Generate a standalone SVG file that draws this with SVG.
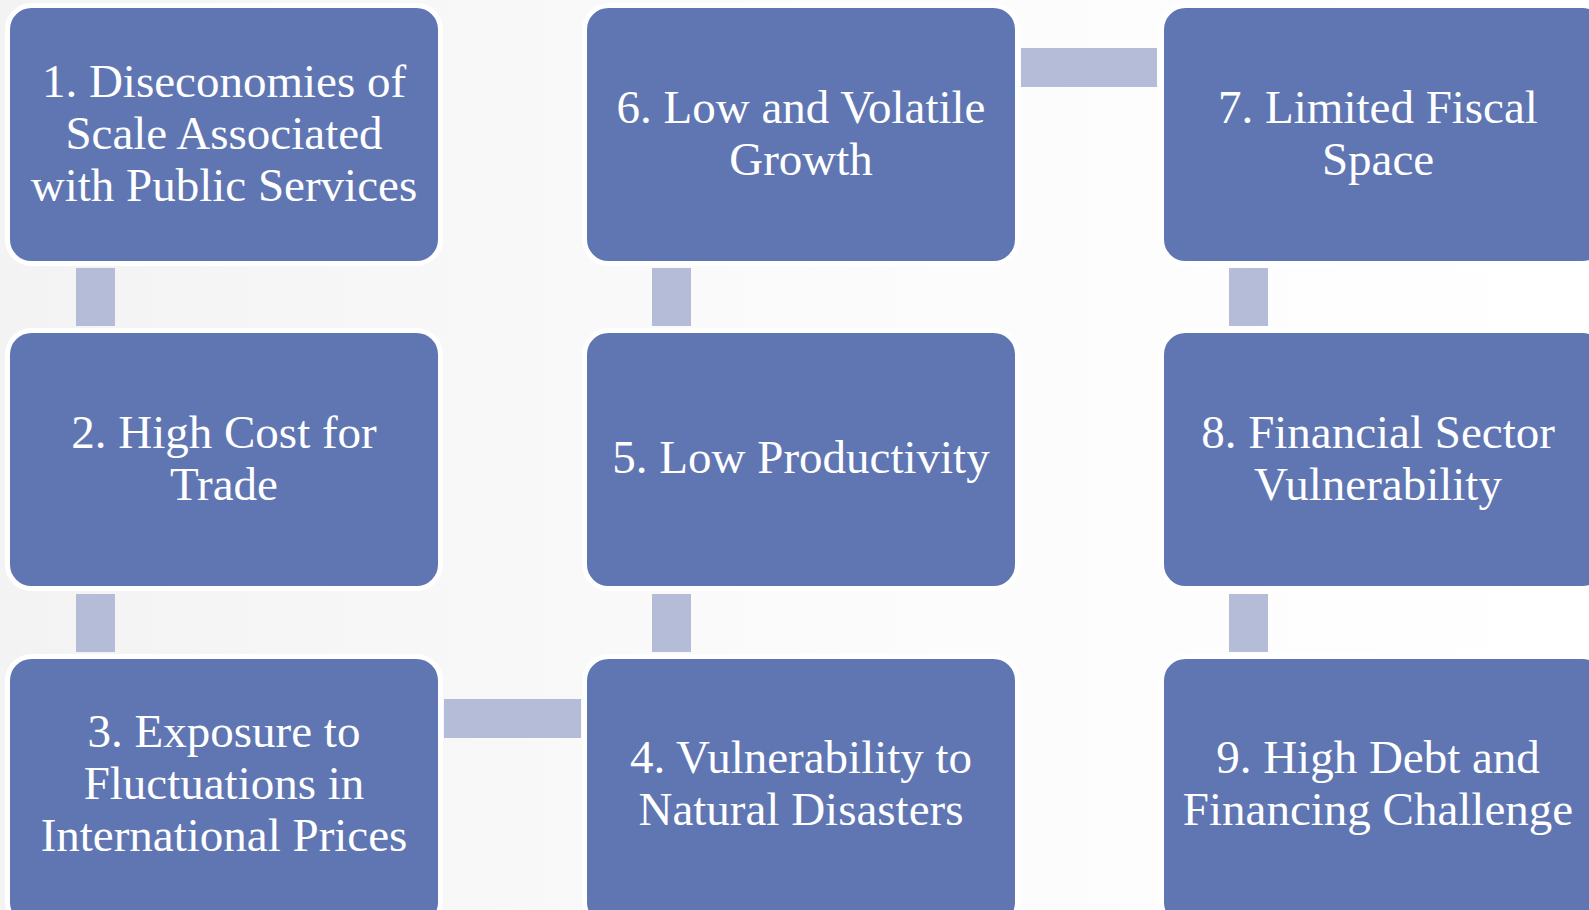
<svg xmlns="http://www.w3.org/2000/svg" width="1589" height="910" viewBox="0 0 1589 910">
<defs>
<linearGradient id="bg" x1="0" y1="0" x2="1" y2="0">
<stop offset="0" stop-color="#f3f3f3"/>
<stop offset="0.5" stop-color="#fbfbfb"/>
<stop offset="1" stop-color="#ffffff"/>
</linearGradient>
</defs>
<style>
.box{fill:#6076b3;stroke:#ffffff;stroke-width:5}
.con{fill:#b4bcd7}
.lbl{font-family:"Liberation Serif","DejaVu Serif",serif;font-size:47px;fill:#ffffff;text-anchor:middle}
</style>
<rect x="0" y="0" width="1589" height="910" fill="url(#bg)"/>
<g id="connectors">
<rect class="con" x="76" y="268" width="39" height="58"/>
<rect class="con" x="76" y="594" width="39" height="58"/>
<rect class="con" x="652" y="268" width="39" height="58"/>
<rect class="con" x="652" y="594" width="39" height="58"/>
<rect class="con" x="1229" y="268" width="39" height="58"/>
<rect class="con" x="1229" y="594" width="39" height="58"/>
<rect class="con" x="444" y="699" width="137" height="39"/>
<rect class="con" x="1021" y="48" width="136" height="39"/>
</g>
<g id="node1">
<rect class="box" x="7.5" y="5.5" width="433" height="258" rx="24"/>
<text class="lbl" x="224" y="97">1. Diseconomies of</text>
<text class="lbl" x="224" y="149">Scale Associated</text>
<text class="lbl" x="224" y="201">with Public Services</text>
</g>
<g id="node2">
<rect class="box" x="7.5" y="330.5" width="433" height="258" rx="24"/>
<text class="lbl" x="224" y="448">2. High Cost for</text>
<text class="lbl" x="224" y="500">Trade</text>
</g>
<g id="node3">
<rect class="box" x="7.5" y="656.5" width="433" height="270" rx="24"/>
<text class="lbl" x="224" y="747">3. Exposure to</text>
<text class="lbl" x="224" y="799">Fluctuations in</text>
<text class="lbl" x="224" y="851">International Prices</text>
</g>
<g id="node4">
<rect class="box" x="584.5" y="656.5" width="433" height="270" rx="24"/>
<text class="lbl" x="801" y="773">4. Vulnerability to</text>
<text class="lbl" x="801" y="825">Natural Disasters</text>
</g>
<g id="node5">
<rect class="box" x="584.5" y="330.5" width="433" height="258" rx="24"/>
<text class="lbl" x="801" y="473">5. Low Productivity</text>
</g>
<g id="node6">
<rect class="box" x="584.5" y="5.5" width="433" height="258" rx="24"/>
<text class="lbl" x="801" y="123">6. Low and Volatile</text>
<text class="lbl" x="801" y="175">Growth</text>
</g>
<g id="node7">
<rect class="box" x="1161.5" y="5.5" width="445" height="258" rx="24"/>
<text class="lbl" x="1378" y="123">7. Limited Fiscal</text>
<text class="lbl" x="1378" y="175">Space</text>
</g>
<g id="node8">
<rect class="box" x="1161.5" y="330.5" width="445" height="258" rx="24"/>
<text class="lbl" x="1378" y="448">8. Financial Sector</text>
<text class="lbl" x="1378" y="500">Vulnerability</text>
</g>
<g id="node9">
<rect class="box" x="1161.5" y="656.5" width="445" height="270" rx="24"/>
<text class="lbl" x="1378" y="773">9. High Debt and</text>
<text class="lbl" x="1378" y="825">Financing Challenge</text>
</g>
</svg>
